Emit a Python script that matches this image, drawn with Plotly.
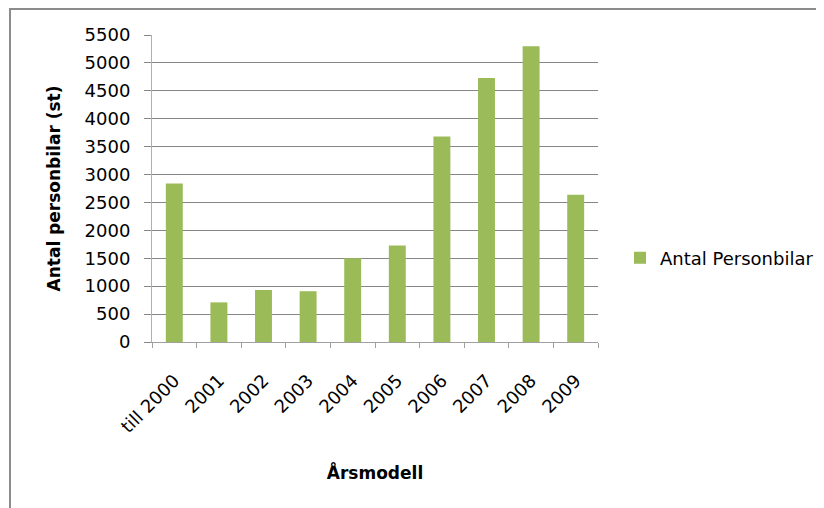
import plotly.graph_objects as go

# Antal personbilar per årsmodell
categories = ["till 2000", "2001", "2002", "2003", "2004", "2005", "2006", "2007", "2008", "2009"]
antal = [2840, 710, 930, 910, 1500, 1730, 3680, 4730, 5300, 2640]
y_ticks = list(range(0, 5501, 500))

bar_color = "#9BBB59"
grid_color = "#868686"
font_family = "DejaVu Sans, Verdana, sans-serif"

fig = go.Figure()

fig.add_trace(go.Bar(
    x=categories, y=antal,
    name="Antal Personbilar",
    marker=dict(color=bar_color, line=dict(width=0)),
))

# the page puts the figure 8px in from the top-left corner,
# so screen positions are shifted by OFF
OFF = 8
W, H = 824, 508
L, R, T, B = 152 - OFF, 598 - OFF, 35 - OFF, 342 - OFF  # plot area in figure px
px = lambda v: (v - OFF - L) / (R - L)
py = lambda v: (B - (v - OFF)) / (B - T)

fig.update_layout(
    width=W, height=H,
    margin=dict(l=L, r=W - R, t=T, b=H - B, autoexpand=False),
    paper_bgcolor="white",
    plot_bgcolor="white",
    font=dict(family=font_family, size=18, color="black"),
    bargap=0.62,
    showlegend=True,
    legend=dict(
        x=px(620), y=py(258), xanchor="left", yanchor="middle",
        font=dict(size=18), itemwidth=30,
    ),
    xaxis=dict(
        type="category",
        automargin=False,
        tickangle=-45,
        ticks="outside", tickson="boundaries", ticklen=5,
        tickcolor="#A0A0A0",
        showline=True, linecolor="#A0A0A0", linewidth=1,
        showgrid=False,
        tickfont=dict(size=18),
        ticklabelstandoff=20,
        title=dict(text="<b>Årsmodell</b>", font=dict(size=17), standoff=31),
    ),
    yaxis=dict(
        automargin=False,
        range=[0, 5500],
        tickvals=y_ticks,
        ticks="outside", ticklen=7, tickcolor=grid_color,
        showline=True, linecolor="#B0B0B0", linewidth=1,
        showgrid=True, gridcolor=grid_color, gridwidth=1,
        zeroline=False,
        tickfont=dict(size=18),
        ticklabelstandoff=10,
        title=dict(text="<b>Antal personbilar (st)</b>", font=dict(size=17), standoff=19),
    ),
    shapes=[
        dict(type="rect", xref="paper", yref="paper",
             x0=px(10), x1=px(900), y0=py(600), y1=py(9),
             line=dict(color="#8C8C8C", width=2), fillcolor="rgba(0,0,0,0)",
             layer="below"),
    ],
)

fig.write_html("out.html")
